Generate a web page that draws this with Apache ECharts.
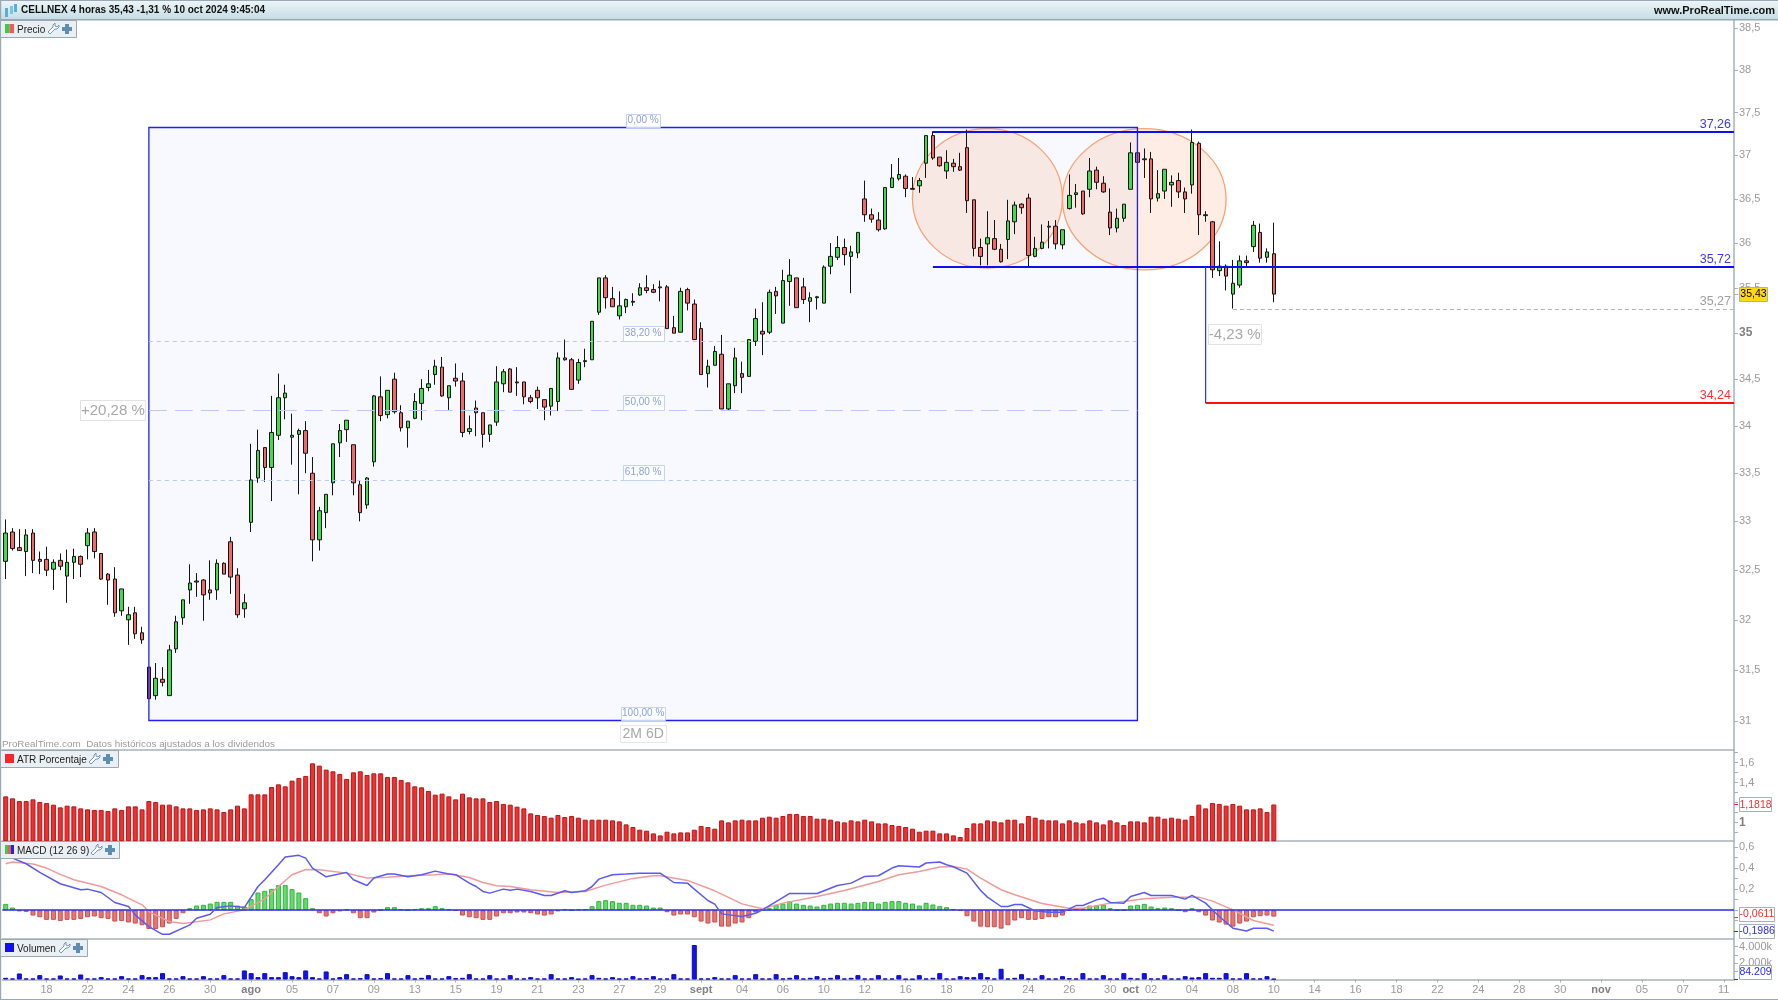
<!DOCTYPE html>
<html>
<head>
<meta charset="utf-8">
<title>CELLNEX 4 horas</title>
<script src="https://cdn.jsdelivr.net/npm/echarts@6/dist/echarts.min.js"></script>
<style>
html, body {margin: 0; padding: 0; background: #fff;}
#chart {width: 1778px; height: 1000px;}
</style>
</head>
<body>
<div id="chart"></div>
<script>
const opens = [
  32.59,32.89,32.73,32.69,32.88,32.61,32.61,32.51,32.60,32.44,
  32.58,32.64,32.75,32.89,32.67,32.46,32.41,32.09,32.00,32.07,
  31.87,31.53,31.25,31.41,31.25,31.71,32.02,32.30,32.38,32.40,
  32.30,32.30,32.57,32.79,32.45,32.11,32.99,33.45,33.77,33.56,
  33.90,34.30,33.88,33.91,33.95,33.50,32.81,33.09,33.40,33.82,
  33.96,33.80,33.38,33.17,33.62,34.31,34.12,34.50,34.14,33.98,
  34.08,34.24,34.41,34.55,34.63,34.30,34.51,34.48,33.94,34.19,
  34.14,33.91,34.04,34.45,34.61,34.46,34.47,34.30,34.38,34.28,
  34.21,34.26,34.73,34.71,34.49,34.69,34.71,35.23,35.61,35.38,
  35.19,35.29,35.34,35.42,35.50,35.48,35.50,35.51,35.06,35.01,
  35.48,35.32,35.05,34.56,34.65,34.77,34.18,34.43,34.56,34.53,
  34.91,35.02,35.01,35.46,35.11,35.57,35.61,35.51,35.35,35.39,
  35.33,35.74,35.84,35.95,35.85,35.89,36.50,36.32,36.26,36.16,
  36.63,36.73,36.76,36.61,36.65,36.91,37.23,36.98,36.82,36.91,
  36.87,37.09,36.49,35.95,35.99,36.05,35.93,36.04,36.24,36.44,
  36.51,35.85,35.94,36.18,36.19,35.98,36.39,36.55,36.59,36.61,
  36.83,36.68,36.35,36.17,36.28,36.61,37.03,36.95,36.96,36.51,
  36.59,36.66,36.71,36.58,36.66,37.14,36.31,36.24,35.69,35.74,
  35.43,35.53,35.80,35.96,36.12,35.84,35.88
];
const closes = [
  32.88,32.72,32.70,32.86,32.60,32.59,32.50,32.58,32.54,32.58,
  32.64,32.56,32.88,32.69,32.41,32.40,32.07,32.31,32.05,31.86,
  31.80,31.22,31.42,31.38,31.70,31.98,32.20,32.37,32.39,32.25,
  32.27,32.57,32.46,32.43,32.05,32.17,33.43,33.74,33.56,33.93,
  34.30,34.35,33.90,33.95,33.71,32.81,33.11,33.28,33.81,33.95,
  34.06,33.40,33.09,33.45,34.32,34.11,34.38,34.15,33.98,34.05,
  34.26,34.40,34.45,34.64,34.32,34.43,34.48,33.93,33.97,34.14,
  33.91,34.01,34.47,34.58,34.36,34.47,34.31,34.26,34.30,34.20,
  34.40,34.73,34.71,34.39,34.68,34.70,35.13,35.61,35.39,35.29,
  35.30,35.37,35.35,35.50,35.47,35.45,35.51,35.05,35.00,35.46,
  35.33,34.93,34.55,34.64,34.80,34.18,34.45,34.73,34.52,34.93,
  35.16,34.99,35.45,35.41,35.58,35.64,35.28,35.37,35.39,35.40,
  35.73,35.85,35.95,35.87,35.90,36.12,36.32,36.27,36.15,36.63,
  36.74,36.78,36.62,36.62,36.71,37.23,36.97,36.88,36.92,36.87,
  36.83,36.48,35.94,35.85,36.06,35.93,35.79,36.25,36.43,36.40,
  35.86,35.94,36.01,36.19,35.99,36.15,36.54,36.57,36.33,36.82,
  36.69,36.58,36.17,36.28,36.44,37.03,36.92,36.96,36.50,36.56,
  36.84,36.69,36.58,36.50,37.15,36.32,36.32,35.70,35.74,35.63,
  35.55,35.80,35.78,36.20,35.83,35.90,35.43
];
const lows = [
  32.41,32.70,32.70,32.44,32.47,32.46,32.44,32.30,32.50,32.17,
  32.41,32.43,32.61,32.62,32.40,32.15,32.03,32.04,31.75,31.81,
  31.76,31.22,31.21,31.34,31.25,31.67,31.95,32.16,32.23,31.99,
  32.20,32.20,32.46,32.26,32.02,32.02,32.89,33.40,33.41,33.21,
  33.85,34.07,33.59,33.28,33.50,32.59,32.70,32.93,33.27,33.67,
  33.83,33.27,33.00,33.13,33.57,34.05,34.08,34.13,33.94,33.77,
  34.07,34.06,34.37,34.44,34.31,34.17,34.42,33.88,33.91,33.89,
  33.77,33.83,34.00,34.36,34.36,34.32,34.23,34.24,34.18,34.06,
  34.11,34.16,34.70,34.39,34.45,34.63,34.71,35.20,35.27,35.29,
  35.15,35.22,35.30,35.41,35.44,35.44,35.35,35.05,35.00,35.01,
  35.25,34.93,34.55,34.41,34.65,34.18,34.16,34.35,34.35,34.53,
  34.86,34.76,34.99,35.21,35.11,35.30,35.28,35.32,35.12,35.26,
  35.33,35.65,35.81,35.75,35.44,35.83,36.24,36.23,36.13,36.15,
  36.63,36.71,36.52,36.61,36.57,36.74,36.95,36.87,36.73,36.81,
  36.82,36.34,35.85,35.75,35.75,35.92,35.78,35.82,36.10,36.33,
  35.74,35.84,35.93,35.94,35.93,35.93,36.38,36.40,36.32,36.52,
  36.61,36.57,36.09,36.12,36.24,36.61,36.92,36.74,36.34,36.47,
  36.50,36.41,36.51,36.34,36.56,36.09,36.24,35.61,35.63,35.47,
  35.27,35.50,35.74,35.90,35.78,35.78,35.34
];
const highs = [
  33.02,32.93,32.92,32.92,32.92,32.69,32.74,32.61,32.67,32.71,
  32.72,32.65,32.93,32.93,32.67,32.47,32.53,32.31,32.13,32.13,
  31.93,31.53,31.57,31.53,31.75,32.04,32.20,32.56,32.47,32.41,
  32.60,32.61,32.58,32.84,32.52,32.26,33.81,33.96,33.77,34.32,
  34.56,34.44,34.13,33.97,34.05,33.67,33.15,33.28,33.81,34.02,
  34.06,33.80,33.43,33.46,34.33,34.53,34.38,34.57,34.22,34.05,
  34.35,34.50,34.60,34.71,34.74,34.43,34.67,34.57,34.11,34.27,
  34.14,34.01,34.64,34.61,34.62,34.63,34.47,34.33,34.42,34.28,
  34.40,34.79,34.93,34.73,34.72,34.83,35.13,35.61,35.64,35.51,
  35.46,35.38,35.44,35.55,35.64,35.54,35.58,35.53,35.19,35.50,
  35.50,35.37,35.12,34.71,34.86,34.98,34.45,34.84,34.69,34.93,
  35.27,35.34,35.48,35.51,35.70,35.82,35.61,35.61,35.45,35.41,
  35.75,36.00,36.08,36.05,35.97,36.12,36.71,36.39,36.35,36.63,
  36.90,36.97,36.78,36.75,36.74,37.23,37.28,36.98,37.06,36.96,
  37.03,37.30,36.49,36.05,36.36,36.26,35.99,36.49,36.47,36.45,
  36.56,36.07,36.21,36.25,36.26,36.15,36.78,36.67,36.59,36.97,
  36.87,36.76,36.62,36.39,36.44,37.15,37.03,37.08,37.04,36.83,
  36.84,36.77,36.80,36.63,37.30,37.16,36.36,36.25,36.02,35.76,
  35.81,35.86,35.86,36.25,36.22,35.94,36.23
];
const atrValues = [
  1.263,1.243,1.217,1.217,1.233,1.207,1.197,1.180,1.153,1.170,
  1.163,1.143,1.133,1.127,1.127,1.117,1.143,1.127,1.163,1.163,
  1.133,1.217,1.207,1.180,1.180,1.163,1.143,1.143,1.127,1.133,
  1.143,1.133,1.107,1.133,1.170,1.143,1.283,1.283,1.283,1.357,
  1.383,1.363,1.420,1.447,1.467,1.593,1.570,1.530,1.513,1.487,
  1.437,1.503,1.513,1.477,1.493,1.493,1.457,1.457,1.427,1.403,
  1.363,1.353,1.317,1.280,1.290,1.263,1.233,1.290,1.253,1.243,
  1.243,1.207,1.217,1.187,1.180,1.160,1.143,1.093,1.077,1.067,
  1.050,1.077,1.057,1.067,1.050,1.030,1.030,1.030,1.030,1.023,
  1.013,0.983,0.957,0.930,0.920,0.893,0.873,0.910,0.893,0.903,
  0.903,0.930,0.967,0.957,0.940,1.023,1.003,1.023,1.030,1.023,
  1.023,1.050,1.060,1.050,1.067,1.087,1.087,1.067,1.067,1.040,
  1.040,1.030,1.013,1.003,1.023,1.013,1.030,1.013,0.993,0.993,
  0.977,0.967,0.957,0.940,0.910,0.920,0.920,0.893,0.893,0.873,
  0.857,0.947,0.993,0.993,1.023,1.013,1.003,1.030,1.030,0.993,
  1.067,1.050,1.030,1.023,1.023,0.993,1.023,1.003,0.993,1.023,
  1.003,0.983,1.023,1.003,0.977,1.013,1.013,1.003,1.060,1.060,
  1.040,1.050,1.040,1.030,1.067,1.180,1.143,1.197,1.187,1.170,
  1.187,1.170,1.133,1.133,1.143,1.107,1.1818
];
const macdHist = [
  0.060,0.025,-0.010,-0.016,-0.051,-0.067,-0.092,-0.092,-0.102,-0.092,
  -0.092,-0.083,-0.067,-0.060,-0.076,-0.083,-0.108,-0.102,-0.117,-0.127,
  -0.143,-0.178,-0.178,-0.162,-0.127,-0.083,-0.029,0.019,0.044,0.051,
  0.063,0.079,0.079,0.079,0.044,0.035,0.105,0.168,0.184,0.203,
  0.238,0.238,0.200,0.168,0.114,0.019,-0.029,-0.060,-0.029,-0.010,
  0.010,-0.029,-0.076,-0.076,-0.022,0,0.029,0.029,0.010,0,
  0.010,0.019,0.019,0.038,0.019,0.010,-0.006,-0.051,-0.067,-0.076,
  -0.092,-0.092,-0.060,-0.029,-0.029,-0.022,-0.022,-0.029,-0.041,-0.051,
  -0.041,-0.010,0.010,0,0.010,0.010,0.038,0.086,0.095,0.086,
  0.070,0.070,0.051,0.051,0.044,0.025,0.025,-0.019,-0.051,-0.041,
  -0.041,-0.067,-0.108,-0.127,-0.117,-0.156,-0.156,-0.127,-0.117,-0.076,
  -0.022,0,0.019,0.051,0.063,0.086,0.063,0.051,0.044,0.035,
  0.051,0.063,0.070,0.070,0.063,0.070,0.079,0.079,0.063,0.079,
  0.086,0.086,0.070,0.063,0.044,0.070,0.054,0.038,0.029,0.010,
  -0.006,-0.057,-0.108,-0.156,-0.162,-0.162,-0.175,-0.143,-0.098,-0.076,
  -0.092,-0.092,-0.083,-0.067,-0.067,-0.051,-0.006,0.019,0.019,0.044,
  0.044,0.054,0.019,0,0,0.044,0.051,0.060,0.035,0.019,
  0.025,0.019,0,-0.019,0.019,-0.019,-0.051,-0.098,-0.117,-0.137,
  -0.156,-0.127,-0.108,-0.067,-0.057,-0.051,-0.0611
];
const macdIdx = [1,3,5,8,11,12,14,16,18,19,21,23,24,27,28,30,31,33,35,37,38,40,41,43,44,45,47,50,51,53,54,56,57,59,61,63,65,
  66,68,69,70,71,73,74,75,77,79,80,82,83,85,86,87,89,91,93,96,98,100,101,103,104,105,108,110,111,115,119,122,124,126,128,130,131,
  134,135,137,138,139,141,143,144,146,147,148,149,151,153,155,157,158,160,161,162,164,165,167,168,171,173,174,176,178,180,182,183,185,186];
const macdLine = [0.495,0.441,0.359,0.251,0.194,0.200,0.168,0.073,0.035,-0.044,-0.156,-0.229,-0.229,-0.140,-0.076,-0.038,0.025,0.041,0.025,0.225,0.289,0.432,0.505,0.521,0.495,0.400,0.317,0.359,0.289,0.235,0.305,0.343,0.343,0.317,0.337,0.371,0.343,
  0.337,0.257,0.225,0.178,0.162,0.200,0.190,0.200,0.178,0.140,0.140,0.184,0.168,0.184,0.225,0.295,0.337,0.343,0.352,0.352,0.263,0.257,0.200,0.092,0.057,-0.035,-0.060,-0.029,0.003,0.159,0.159,0.235,0.257,0.321,0.327,0.400,0.422,
  0.410,0.448,0.457,0.432,0.413,0.352,0.187,0.124,0.035,0.035,0.054,0.054,-0.006,-0.019,-0.019,0.044,0.044,0.098,0.114,0.073,0.067,0.130,0.168,0.140,0.140,0.105,0.140,0.067,-0.060,-0.171,-0.197,-0.171,-0.171,-0.1986];
const signalIdx = [0,1,4,6,8,10,14,17,20,21,24,26,30,32,35,38,40,42,44,46,50,53,56,59,63,65,
  68,70,72,74,77,81,85,88,92,95,96,100,104,108,111,114,119,123,128,131,
  134,137,139,141,143,146,148,152,156,158,162,167,171,175,177,180,183,186];
const signalLine = [0.441,0.457,0.438,0.400,0.340,0.289,0.225,0.146,0.051,-0.013,-0.108,-0.127,-0.092,-0.035,0.003,0.108,0.225,0.337,0.387,0.384,0.352,0.305,0.314,0.327,0.337,0.346,
  0.311,0.263,0.232,0.225,0.194,0.168,0.178,0.238,0.302,0.327,0.327,0.283,0.184,0.060,0.013,0.067,0.130,0.187,0.273,0.337,
  0.368,0.410,0.416,0.390,0.305,0.194,0.146,0.063,0.019,0.019,0.067,0.108,0.124,0.124,0.086,0.003,-0.098,-0.143];
const volumeK = [
  204,122,734,122,122,530,122,122,490,122,
  122,612,122,122,286,122,122,408,122,122,
  530,286,286,775,122,122,408,122,122,408,
  122,122,530,122,122,1102,775,286,775,286,
  286,898,408,286,1102,286,122,979,122,286,
  653,122,163,653,122,163,775,122,122,530,
  122,204,530,122,122,408,
  163,204,653,122,122,530,122,122,530,122,
  122,286,122,122,653,122,122,286,82,122,
  530,204,122,286,122,122,408,122,163,408,
  122,122,653,122,122,4202,122,122,286,122,
  122,530,122,122,653,122,122,653,122,204,
  530,122,204,408,122,204,530,122,204,530,
  122,122,530,122,122,530,
  82,82,530,122,204,775,122,122,408,286,
  286,775,286,122,1306,122,204,653,122,122,
  530,122,122,408,163,122,775,122,122,530,
  122,122,775,204,122,775,122,122,530,122,
  122,408,245,286,775,204,204,775,122,122,
  775,122,122,408,84.209
];

// bottom axis, one label every 6 bars starting at bar 6, plus "oct" between two of them
const slotCount = 254;
const tickLabels = ['18','22','24','26','30','ago','05','07','09','13','15','19','21','23','27','29','sept','04','06','10','12','16','18','20','24','26','30','02','04','08','10','14','16','18','22','24','28','30','nov','05','07','11'];
const monthNames = ['ago', 'sept', 'oct', 'nov'];
const categories = new Array(slotCount).fill('');
tickLabels.forEach((t, k) => { categories[6 + k * 6] = t; });
categories[165] = 'oct';

const priceTicks = [38.5, 38, 37.5, 37, 36.5, 36, 35.5, 35, 34.5, 34, 33.5, 33, 32.5, 32, 31.5, 31];
const atrTicks = [1.6, 1.4, 1.2, 1];
const atrMinor = [1.7, 1.6, 1.5, 1.4, 1.3, 1.2, 1.1, 1, 0.9];
const macdTicks = [0.6, 0.4, 0.2];
const macdMinor = [0.6, 0.5, 0.4, 0.3, 0.2, 0.1, 0, -0.1, -0.2];
const volTicks = [4000, 2000];
const volMinor = [4000, 3000, 2000, 1000];

// drawings on the price pane
const fibStart = 21, fibEnd = 166;
const fibLevels = [37.33, 34.91, 34.165, 33.42, 31.01];
const fibLabels = ['0,00 %', '38,20 %', '50,00 %', '61,80 %', '100,00 %'];
const fibDash = [null, [4, 4], [18, 8], [4, 4], null];
// the drawn lines sit a hair off their printed values in the original
const levelValues = [37.275, 35.73, 35.27, 34.245];
const levelNames = ['37,26', '35,72', '35,27', '34,24'];
const levelStart = [136, 136, 180, 176];
const levelColors = ['#1010ee', '#1010ee', '#b4b4b4', '#ff1010'];
const levelText = ['#3a3aee', '#3a3aee', '#a0a0a0', '#ff3030'];
const topEllipses = [[133, 155, 37.31, 35.72], [155, 179, 37.31, 35.70]];

const fontName = '"Liberation Sans", Arial, sans-serif';
const axisGray = '#9a9a9a';
const comma = v => String(v).replace('.', ',');

const chart = echarts.init(document.getElementById('chart'));

function belowCandles(params, api) {
  const a = api.coord([fibStart, fibLevels[0]]);
  const b = api.coord([fibEnd, fibLevels[4]]);
  const kids = [{
    type: 'rect',
    shape: {x: a[0], y: a[1], width: b[0] - a[0], height: b[1] - a[1]},
    style: {fill: '#f8f9fe'}
  }];
  topEllipses.forEach(e => {
    const p = api.coord([e[0], e[2]]);
    const q = api.coord([e[1], e[3]]);
    kids.push({
      type: 'ellipse',
      shape: {cx: (p[0] + q[0]) / 2, cy: (p[1] + q[1]) / 2, rx: (q[0] - p[0]) / 2, ry: (q[1] - p[1]) / 2},
      style: {fill: 'rgba(250,140,90,0.16)', stroke: '#f9a172', lineWidth: 1.3}
    });
  });
  return {type: 'group', children: kids};
}

function boxedText(cx, cy, w, h, text, font, color, border) {
  return [{
    type: 'rect',
    shape: {x: Math.round(cx - w / 2) + 0.5, y: Math.round(cy - h / 2) + 0.5, width: w, height: h},
    style: {fill: 'rgba(255,255,255,0.75)', stroke: border, lineWidth: 1}
  }, {
    type: 'text',
    style: {x: cx, y: cy + 0.5, text: text, font: font, fill: color, align: 'center', verticalAlign: 'middle'}
  }];
}

function aboveCandles(params, api) {
  const a = api.coord([fibStart, fibLevels[0]]);
  const b = api.coord([fibEnd, fibLevels[4]]);
  const right = params.coordSys.x + params.coordSys.width;
  const midX = (a[0] + b[0]) / 2;
  let kids = [{
    type: 'rect',
    shape: {x: a[0], y: Math.floor(a[1]) + 0.5, width: b[0] - a[0], height: Math.round(b[1] - a[1])},
    style: {fill: 'none', stroke: '#2020f6', lineWidth: 1.3}
  }];
  fibLevels.forEach((lv, k) => {
    const y = Math.floor(api.coord([fibStart, lv])[1]);
    if (fibDash[k]) {
      kids.push({
        type: 'line',
        shape: {x1: a[0], y1: y + 0.5, x2: b[0], y2: y + 0.5},
        style: {stroke: '#bcc8f6', lineWidth: 1, lineDash: fibDash[k]}
      });
    }
    const w = k === 0 ? 34 : k === 4 ? 44 : 41;
    const h = k === 0 || k === 4 ? 13 : 15;
    kids = kids.concat(boxedText(midX, y - h / 2 - 0.5, w, h, fibLabels[k], '10px ' + fontName, '#8c9fd8', '#c6d2f6'));
  });
  levelValues.forEach((v, k) => {
    const p = api.coord([levelStart[k], v]);
    const y = Math.round(p[1]);
    kids.push({
      type: 'line',
      shape: {x1: p[0], y1: k === 2 ? y + 0.5 : y, x2: right, y2: k === 2 ? y + 0.5 : y},
      style: {stroke: levelColors[k], lineWidth: k === 2 ? 1 : 2, lineDash: k === 2 ? [4, 3] : null}
    });
    kids.push({
      type: 'text',
      style: {x: right - 3, y: y - 1, text: levelNames[k], font: '12.5px ' + fontName, fill: levelText[k], align: 'right', verticalAlign: 'bottom'}
    });
  });
  // measuring arrow from the neckline down to the target
  const t1 = api.coord([levelStart[3], levelValues[1]]);
  const t2 = api.coord([levelStart[3], levelValues[3]]);
  kids.push({
    type: 'line',
    shape: {x1: t1[0], y1: t1[1], x2: t2[0], y2: t2[1]},
    style: {stroke: '#3030ee', lineWidth: 1.2}
  });
  const pctL = api.coord([fibStart, fibLevels[2]]);
  kids = kids.concat(boxedText(pctL[0] - 36, pctL[1], 65, 20, '+20,28 %', '15px ' + fontName, '#a8a8a8', '#e2e2e2'));
  const pctR = api.coord([levelStart[3], (levelValues[1] + levelValues[3]) / 2]);
  kids = kids.concat(boxedText(pctR[0] + 29, pctR[1], 53, 20, '-4,23 %', '15px ' + fontName, '#a8a8a8', '#e2e2e2'));
  kids = kids.concat(boxedText(midX, b[1] + 13, 46, 17, '2M 6D', '14px ' + fontName, '#a8a8a8', '#e6e6e6'));
  return {type: 'group', children: kids};
}

// last value flag on the right scale
function flag(gridIdx, value, text, color, bg, width, shift) {
  return {
    type: 'custom',
    xAxisIndex: gridIdx, yAxisIndex: gridIdx,
    z: 20, silent: true, clip: false,
    data: [[0, value]],
    renderItem: (params, api) => {
      const y = api.coord([0, value])[1];
      const x = params.coordSys.x + params.coordSys.width + 5;
      return {type: 'group', children: [{
        type: 'line',
        shape: {x1: x - 5, y1: Math.round(y) + 0.5, x2: x - 1, y2: Math.round(y) + 0.5},
        style: {stroke: color, lineWidth: 1}
      }, {
        type: 'rect',
        shape: {x: x + 0.5, y: Math.round(y + shift - 7) + 0.5, width: width, height: 14},
        style: {fill: bg, stroke: '#a6b2b8', lineWidth: 1}
      }, {
        type: 'text',
        style: {x: x + width / 2 + 0.5, y: y + shift + 0.5, text: text, font: '10.5px ' + fontName, fill: bg === '#ffffff' ? color : '#000', align: 'center', verticalAlign: 'middle'}
      }]};
    }
  };
}

function makeXAxis(gridIdx, showLabels) {
  return {
    type: 'category', gridIndex: gridIdx, data: categories,
    axisLine: {onZero: false, lineStyle: {color: '#a7b2b7', width: 1.5}},
    axisTick: {show: showLabels, alignWithLabel: true, length: 3, interval: (i, v) => v !== '', lineStyle: {color: '#a7b2b7'}},
    axisLabel: {
      show: showLabels, interval: (i, v) => v !== '', margin: 5,
      fontFamily: fontName, fontSize: 11, color: axisGray,
      formatter: v => monthNames.includes(v) ? '{m|' + v + '}' : v,
      rich: {m: {fontFamily: fontName, fontSize: 11, fontWeight: 'bold', color: '#808080'}}
    },
    splitLine: {show: false}
  };
}

function makeYAxis(gridIdx, type, min, max, labelValues, tickValues, fmt) {
  return {
    type: type, gridIndex: gridIdx, position: 'right', min: min, max: max, scale: true,
    axisLine: {show: true, onZero: false, lineStyle: {color: '#bac5cc', width: 2}},
    axisTick: {show: true, length: 4, customValues: tickValues, lineStyle: {color: '#a7b2b7'}},
    axisLabel: {
      margin: 5, customValues: labelValues, fontFamily: fontName, fontSize: 11, color: axisGray,
      hideOverlap: false, showMinLabel: true, showMaxLabel: true,
      formatter: fmt,
      rich: {b: {fontFamily: fontName, fontSize: 12, fontWeight: 'bold', color: '#808080'}}
    },
    splitLine: {show: false}
  };
}

const wrench = [[7,0],[5,2],[5,4],[0,9],[2,11],[7,6],[9,6],[11,4],[11,2],[9,4],[7,3]];

function legendBox(x0, y0, width, label, swatches, textWidth) {
  const els = [{
    type: 'rect', z: 30,
    shape: {x: x0 + 0.5, y: y0 + 0.5, width: width, height: 17},
    style: {fill: '#e9eff2', stroke: '#9aa9b1', lineWidth: 1}
  }];
  const sw = 9 / swatches.length;
  swatches.forEach((c, k) => {
    els.push({type: 'rect', z: 31, shape: {x: 5 + k * sw, y: y0 + 4, width: sw, height: 9}, style: {fill: c}});
  });
  els.push({
    type: 'text', z: 31, x: 17, y: y0 + 10,
    style: {text: label, font: '10px ' + fontName, fill: '#1c1c1c', verticalAlign: 'middle', align: 'left'}
  });
  const ix = 17 + textWidth + 3;
  els.push({
    type: 'polygon', z: 31,
    shape: {points: wrench.map(p => [p[0] + ix, p[1] + y0 + 3])},
    style: {fill: '#fff', stroke: '#6f98b6', lineWidth: 1}
  });
  els.push({type: 'rect', z: 31, shape: {x: ix + 14, y: y0 + 7, width: 10, height: 4}, style: {fill: '#5d8db0'}});
  els.push({type: 'rect', z: 31, shape: {x: ix + 17, y: y0 + 4, width: 4, height: 10}, style: {fill: '#5d8db0'}});
  return els;
}

const headerFill = new echarts.graphic.LinearGradient(0, 0, 0, 1, [
  {offset: 0, color: '#eef6f9'}, {offset: 1, color: '#c6dde5'}
]);

const graphicEls = [
  {type: 'rect', z: 25, shape: {x: 0, y: 0, width: 1778, height: 19}, style: {fill: headerFill}},
  {type: 'rect', z: 25, shape: {x: 0, y: 19, width: 1778, height: 1.5}, style: {fill: '#9aa9b1'}},
  {type: 'rect', z: 25, shape: {x: 0, y: 0, width: 1778, height: 1}, style: {fill: '#9aa9b1'}},
  {type: 'rect', z: 25, shape: {x: 0, y: 0, width: 1.2, height: 1000}, style: {fill: '#9aa9b1'}},
  {type: 'rect', z: 25, shape: {x: 0, y: 999, width: 1778, height: 1}, style: {fill: '#9aa9b1'}},
  {type: 'rect', z: 26, shape: {x: 5, y: 8, width: 3, height: 9}, style: {fill: '#55aee0'}},
  {type: 'rect', z: 26, shape: {x: 10, y: 6, width: 3, height: 8}, style: {fill: '#7cc3ea'}},
  {type: 'rect', z: 26, shape: {x: 14, y: 4, width: 3, height: 8}, style: {fill: '#55aee0'}},
  {type: 'text', z: 26, x: 21, y: 10.5, style: {text: 'CELLNEX 4 horas 35,43 -1,31 % 10 oct 2024 9:45:04', font: 'bold 10px ' + fontName, fill: '#111', verticalAlign: 'middle', align: 'left'}},
  {type: 'text', z: 26, x: 1775, y: 10.5, style: {text: 'www.ProRealTime.com', font: 'bold 11px ' + fontName, fill: '#111', verticalAlign: 'middle', align: 'right'}},
  {type: 'text', z: 26, x: 2, y: 744.5, style: {text: 'ProRealTime.com  Datos históricos ajustados a los dividendos', font: '9.9px ' + fontName, fill: '#9c9c9c', verticalAlign: 'middle', align: 'left'}}
]
  .concat(legendBox(0, 20, 76, 'Precio', ['#3ecb4a', '#ef5b5b'], 28))
  .concat(legendBox(0, 750, 118, 'ATR Porcentaje', ['#ee2a2a'], 69))
  .concat(legendBox(0, 841, 119, 'MACD (12 26 9)', ['#3ecb4a', '#ef5b5b', '#2222ee'], 71))
  .concat(legendBox(0, 939, 87, 'Volumen', ['#1010ee'], 39));

chart.setOption({
  animation: false,
  backgroundColor: '#ffffff',
  tooltip: {show: false},
  graphic: {elements: graphicEls},
  grid: [
    {left: 2.3, right: 44, top: 20, height: 729.3},
    {left: 2.3, right: 44, top: 749.3, height: 91.4},
    {left: 2.3, right: 44, top: 840.7, height: 97.6},
    {left: 2.3, right: 44, top: 938.3, height: 41.2}
  ],
  xAxis: [makeXAxis(0, false), makeXAxis(1, false), makeXAxis(2, false), makeXAxis(3, true)],
  yAxis: [
    Object.assign(makeYAxis(0, 'log', 30.73, 38.6, priceTicks, priceTicks, v => v === 35 ? '{b|35}' : comma(v)), {logBase: 10}),
    makeYAxis(1, 'value', 0.82, 1.733, atrTicks, atrMinor, v => v === 1 ? '{b|1}' : comma(v)),
    makeYAxis(2, 'value', -0.267, 0.66, macdTicks, macdMinor, v => comma(v)),
    makeYAxis(3, 'value', 0, 5020, volTicks, volMinor, v => (v / 1000).toFixed(3) + 'k')
  ],
  series: [
    {type: 'custom', xAxisIndex: 0, yAxisIndex: 0, z: 1, silent: true, clip: false, data: [[0, 35]], renderItem: belowCandles},
    {
      type: 'candlestick', xAxisIndex: 0, yAxisIndex: 0, z: 3, silent: true,
      barWidth: 4,
      data: opens.map((o, i) => [o, closes[i], lows[i], highs[i]]),
      itemStyle: {color: '#3fdc4e', color0: '#f06868', borderColor: '#141414', borderColor0: '#141414', borderWidth: 1}
    },
    {type: 'custom', xAxisIndex: 0, yAxisIndex: 0, z: 5, silent: true, clip: false, data: [[0, 35]], renderItem: aboveCandles},
    {
      type: 'bar', xAxisIndex: 1, yAxisIndex: 1, silent: true, barWidth: 5,
      data: atrValues,
      itemStyle: {color: '#ee3030', borderColor: '#bb1616', borderWidth: 1}
    },
    {
      type: 'bar', xAxisIndex: 2, yAxisIndex: 2, silent: true, barWidth: 5,
      data: macdHist.map(v => ({
        value: v,
        itemStyle: v >= 0
          ? {color: '#62dc68', borderColor: '#35b043', borderWidth: 1}
          : {color: '#e87474', borderColor: '#c85050', borderWidth: 1}
      })),
      markLine: {
        silent: true, symbol: 'none', animation: false, label: {show: false},
        lineStyle: {color: '#2a2aee', width: 1.5, type: 'solid'},
        data: [{yAxis: 0}]
      }
    },
    {
      type: 'line', xAxisIndex: 2, yAxisIndex: 2, silent: true, showSymbol: false, z: 4,
      lineStyle: {color: '#f09a9a', width: 1.5},
      data: signalIdx.map((x, k) => [x, signalLine[k]])
    },
    {
      type: 'line', xAxisIndex: 2, yAxisIndex: 2, silent: true, showSymbol: false, z: 5,
      lineStyle: {color: '#5a5af2', width: 1.5},
      data: macdIdx.map((x, k) => [x, macdLine[k]])
    },
    {
      type: 'bar', xAxisIndex: 3, yAxisIndex: 3, silent: true, barWidth: 5,
      data: volumeK,
      itemStyle: {color: '#1212ee', borderColor: '#0c0cc0', borderWidth: 1}
    },
    flag(0, 35.43, '35,43', '#a6b2b8', '#ffd90f', 28, -0.5),
    flag(1, 1.1818, '1,1818', '#ee3030', '#ffffff', 32, 0),
    flag(2, -0.0611, '-0,0611', '#ee3030', '#ffffff', 35, -3),
    flag(2, -0.1986, '-0,1986', '#2a2aee', '#ffffff', 35, 0),
    flag(3, 84.209, '84.209', '#2a2aee', '#ffffff', 32, -7)
  ]
});
</script>
</body>
</html>
